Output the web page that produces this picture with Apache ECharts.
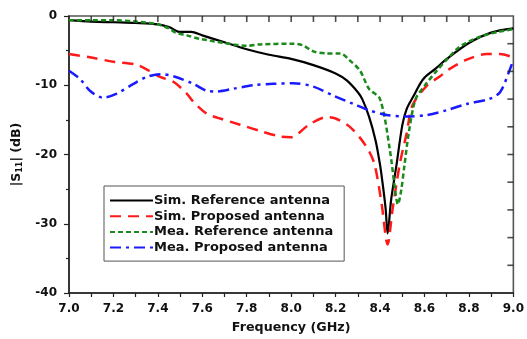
<!DOCTYPE html>
<html><head><meta charset="utf-8">
<script src="https://cdn.jsdelivr.net/npm/echarts@6/dist/echarts.min.js"></script>
<style>html,body{margin:0;padding:0;background:#fff}#c{width:527px;height:339px}</style>
</head><body><div id="c"></div>
<script>
var xTicks = [7.0, 7.2, 7.4, 7.6, 7.8, 8.0, 8.2, 8.4, 8.6, 8.8, 9.0];
var yTicks = [0, -10, -20, -30, -40];
var topTicks = [7.1,7.2,7.3,7.4,7.5,7.6,7.7,7.8,7.9,8.0,8.1,8.2,8.3,8.4,8.5,8.6,8.7,8.8,8.9];
var rightTicks = [-36,-32,-28,-24,-20,-16,-12,-8,-4];

var simRefF = [7.0,7.1,7.2,7.3,7.4,7.45,7.5,7.55,7.6,7.7,7.8,7.9,8.0,8.1,8.2,8.25,8.3,8.32,8.35,8.38,8.4,8.41,8.425,8.434,8.45,8.474,8.5,8.52,8.55,8.58,8.6,8.65,8.7,8.8,8.9,9.0];
var simRefV = [-0.6,-0.8,-0.9,-1.0,-1.2,-1.6,-2.3,-2.3,-2.8,-3.8,-4.8,-5.6,-6.2,-7.1,-8.3,-9.3,-11.0,-12.0,-14.5,-18.0,-21.5,-23.8,-27.8,-31.4,-26.5,-21.5,-15.8,-13.4,-11.6,-9.8,-8.9,-7.6,-6.2,-3.9,-2.4,-1.8];

var simPropF = [7.0,7.1,7.2,7.3,7.36,7.41,7.47,7.53,7.56,7.62,7.68,7.77,7.86,7.95,8.0,8.08,8.16,8.2,8.26,8.31,8.35,8.376,8.407,8.434,8.456,8.488,8.52,8.546,8.61,8.67,8.71,8.79,8.88,8.94,9.0];
var simPropV = [-5.5,-6.0,-6.6,-7.0,-7.9,-8.8,-9.5,-11.2,-12.4,-14.1,-14.8,-15.7,-16.6,-17.4,-17.5,-15.7,-14.6,-14.8,-15.9,-17.6,-19.5,-21.5,-27.1,-33.0,-28.0,-21.5,-16.9,-12.9,-10.1,-8.7,-7.7,-6.3,-5.5,-5.5,-6.0];

var meaRefF = [7.0,7.1,7.2,7.3,7.4,7.45,7.48,7.53,7.59,7.74,7.8,7.86,8.0,8.05,8.1,8.16,8.22,8.26,8.31,8.35,8.4,8.443,8.47,8.48,8.495,8.51,8.53,8.56,8.6,8.65,8.7,8.76,8.85,8.93,9.0];
var meaRefV = [-0.6,-0.6,-0.6,-0.8,-1.2,-1.8,-2.4,-2.8,-3.3,-4.1,-4.3,-4.1,-4.0,-4.2,-5.1,-5.4,-5.4,-6.3,-7.9,-10.5,-12.0,-19.1,-25.7,-27.2,-25.2,-21.5,-16.7,-12.0,-10.1,-8.1,-6.3,-4.4,-3.0,-2.3,-1.9];

var meaPropF = [7.0,7.05,7.094,7.153,7.215,7.29,7.35,7.41,7.47,7.56,7.62,7.66,7.74,7.83,7.92,8.01,8.1,8.19,8.28,8.35,8.43,8.52,8.61,8.7,8.79,8.89,8.94,8.98,9.0];
var meaPropV = [-7.9,-9.1,-10.8,-11.8,-11.2,-9.8,-8.8,-8.4,-8.7,-9.8,-10.8,-10.9,-10.5,-10.0,-9.8,-9.7,-10.2,-11.5,-12.7,-13.6,-14.3,-14.5,-14.3,-13.6,-12.7,-12.0,-11.0,-8.1,-6.3];

var names = ['Sim. Reference antenna','Sim. Proposed antenna','Mea. Reference antenna','Mea. Proposed antenna'];

function pairs(f, v){ return f.map(function(x,i){ return [x, v[i]]; }); }

var FONT = 'DejaVu Sans';
var chart = echarts.init(document.getElementById('c'), null, {renderer:'canvas'});
var lbl = {fontFamily: FONT, fontWeight: 'bold', fontSize: 12, color: '#111'};

function mk(name, f, v, color, type, width){
  return {
    name: name, type: 'line', data: pairs(f, v),
    showSymbol: false, symbol: 'none', smooth: 0.3,
    lineStyle: {color: color, width: width, type: type},
    itemStyle: {color: color},
    z: 3
  };
}

chart.setOption({
  animation: false,
  backgroundColor: '#fff',
  grid: {left: 69, right: 13, top: 16, bottom: 42, show: true, borderColor: '#555', borderWidth: 1.6, backgroundColor: 'rgba(0,0,0,0)'},
  legend: {
    show: true, orient: 'vertical', left: 104, top: 186,
    data: names,
    backgroundColor: '#fff', borderColor: '#555', borderWidth: 1,
    padding: [8, 11, 7, 5], itemWidth: 43, itemHeight: 14, itemGap: 2.7,
    itemStyle: {opacity: 0},
    textStyle: {fontFamily: FONT, fontWeight: 'bold', fontSize: 13, color: '#111', padding: [0,0,0,-4]}
  },
  xAxis: {
    type: 'value', position: 'bottom', min: 7, max: 9, interval: 0.2,
    name: 'Frequency (GHz)', nameLocation: 'middle', nameGap: 28,
    nameTextStyle: {fontFamily: FONT, fontWeight: 'bold', fontSize: 12.7, color: '#111'},
    axisLine: {show: true, onZero: false, lineStyle: {color: '#222', width: 1.5}},
    axisTick: {show: true, inside: false, length: 4, lineStyle: {color: '#222', width: 1.2}},
    minorTick: {show: true, splitNumber: 2, length: 4, lineStyle: {color: '#222', width: 1.2}},
    axisLabel: Object.assign({margin: 10, formatter: function(v){ return v.toFixed(1); }}, lbl),
    splitLine: {show: false}
  },
  yAxis: {
    type: 'value', position: 'left', min: -40, max: 0, interval: 10,
    name: '|S{s|11}| (dB)', nameLocation: 'middle', nameGap: 45, nameRotate: 90,
    nameTextStyle: {fontFamily: FONT, fontWeight: 'bold', fontSize: 12.5, color: '#111',
      rich: {s: {fontFamily: FONT, fontWeight: 'bold', fontSize: 8, color: '#111', padding: [0,0,-8,0]}}},
    axisLine: {show: true, onZero: false, lineStyle: {color: '#222', width: 1.5}},
    axisTick: {show: true, inside: false, length: 5, lineStyle: {color: '#222', width: 1.2}},
    minorTick: {show: true, splitNumber: 2, length: 3, lineStyle: {color: '#222', width: 1.2}},
    axisLabel: Object.assign({margin: 12}, lbl),
    splitLine: {show: false}
  },
  series: [
    mk(names[0], simRefF, simRefV, '#000000', 'solid', 2.2),
    mk(names[1], simPropF, simPropV, '#ff1a1a', [11, 7], 2.5),
    mk(names[2], meaRefF, meaRefV, '#1a8a1a', [5, 3], 2.5),
    mk(names[3], meaPropF, meaPropV, '#1a1aff', [11, 5, 3, 5], 2.5),
    {type: 'scatter', name: 'topTicks', data: topTicks.map(function(x){ return [x, 0]; }),
     symbol: 'rect', symbolSize: [1.6, 6], symbolOffset: [0, 3], clip: false, silent: true,
     itemStyle: {color: '#222'}, z: 5},
    {type: 'scatter', name: 'rightTicks', data: rightTicks.map(function(y){ return [9, y]; }),
     symbol: 'rect', symbolSize: [6, 1.6], symbolOffset: [-3, 0], clip: false, silent: true,
     itemStyle: {color: '#222'}, z: 5}
  ]
});
</script></body></html>
